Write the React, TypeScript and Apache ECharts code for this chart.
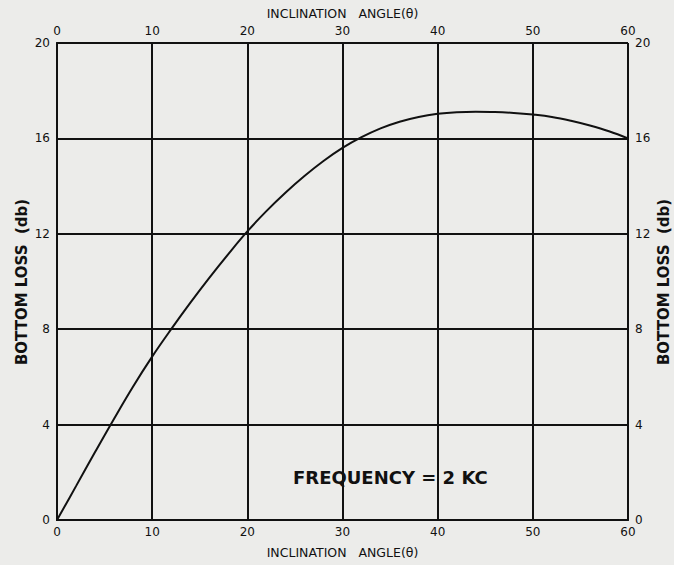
import React, { useEffect, useRef } from "react";
import * as echarts from "echarts";

const angles = [0, 2, 4, 6, 8, 10, 12, 14, 16, 18, 20, 22, 24, 26, 28, 30, 32, 34, 36, 38, 40, 42, 44, 46, 48, 50, 52, 54, 56, 58, 60];
const bottomLoss = [0, 1.42, 2.85, 4.25, 5.6, 6.85, 8.0, 9.1, 10.15, 11.15, 12.1, 12.95, 13.72, 14.42, 15.05, 15.6, 16.05, 16.42, 16.7, 16.9, 17.03, 17.1, 17.12, 17.11, 17.07, 17.0, 16.9, 16.74, 16.54, 16.3, 16.0];
const xTicks = [0, 10, 20, 30, 40, 50, 60];
const yTicks = [0, 4, 8, 12, 16, 20];
const xTitle = "INCLINATION   ANGLE(θ)";
const xTitleBottom = "INCLINATION   ANGLE(θ)";
const yTitle = "BOTTOM LOSS  (db)";
const note = "FREQUENCY = 2 KC";

export default function App() {
  const ref = useRef<HTMLDivElement>(null);
  useEffect(() => {
    if (!ref.current) return;
    const chart = echarts.init(ref.current, null, { renderer: "svg" });
    const font = "'DejaVu Sans', 'Liberation Sans', Arial, sans-serif";
    const ink = "#111";
    const xBase = {
      type: "value",
      min: xTicks[0],
      max: xTicks[xTicks.length - 1],
      interval: 10,
      axisLine: { show: true, lineStyle: { color: ink, width: 2 } },
      axisTick: { show: false },
      splitLine: { show: true, lineStyle: { color: ink, width: 2 } },
      axisLabel: { color: ink, fontFamily: font, fontSize: 12, margin: 6 },
      nameLocation: "middle",
      nameTextStyle: { color: ink, fontFamily: font, fontSize: 12.5 },
    };
    const yBase = {
      type: "value",
      min: yTicks[0],
      max: yTicks[yTicks.length - 1],
      interval: 4,
      axisLine: { show: true, lineStyle: { color: ink, width: 2 } },
      axisTick: { show: false },
      splitLine: { show: true, lineStyle: { color: ink, width: 2 } },
      axisLabel: { color: ink, fontFamily: font, fontSize: 12, margin: 7 },
    };
    const yTitleStyle = { text: yTitle, fill: ink, font: `bold 15px ${font}`, align: "center", verticalAlign: "middle" };
    chart.setOption({
      animation: false,
      backgroundColor: "#ececea",
      grid: { left: 57, right: 46, top: 43, bottom: 45, outerBoundsMode: "none", containLabel: false },
      xAxis: [
        { ...xBase, position: "bottom", name: xTitleBottom, nameGap: 26 },
        { ...xBase, position: "top", name: xTitle, nameGap: 23, splitLine: { show: false } },
      ],
      yAxis: [
        { ...yBase, position: "left" },
        { ...yBase, position: "right", splitLine: { show: false } },
      ],
      series: [
        {
          type: "line",
          xAxisIndex: 0,
          yAxisIndex: 0,
          data: angles.map((a, i) => [a, bottomLoss[i]]),
          smooth: 0.4,
          showSymbol: false,
          lineStyle: { color: ink, width: 2 },
        },
      ],
      graphic: [
        { type: "text", x: 22, y: 282, rotation: Math.PI / 2, style: yTitleStyle },
        { type: "text", x: 664, y: 282, rotation: Math.PI / 2, style: yTitleStyle },
        {
          type: "text",
          left: 293,
          top: 468,
          style: { text: note, fill: ink, font: `bold 18px ${font}` },
        },
      ],
    });
    return () => chart.dispose();
  }, []);
  return <div ref={ref} style={{ position: "fixed", left: 0, top: 0, width: 674, height: 565 }} />;
}
